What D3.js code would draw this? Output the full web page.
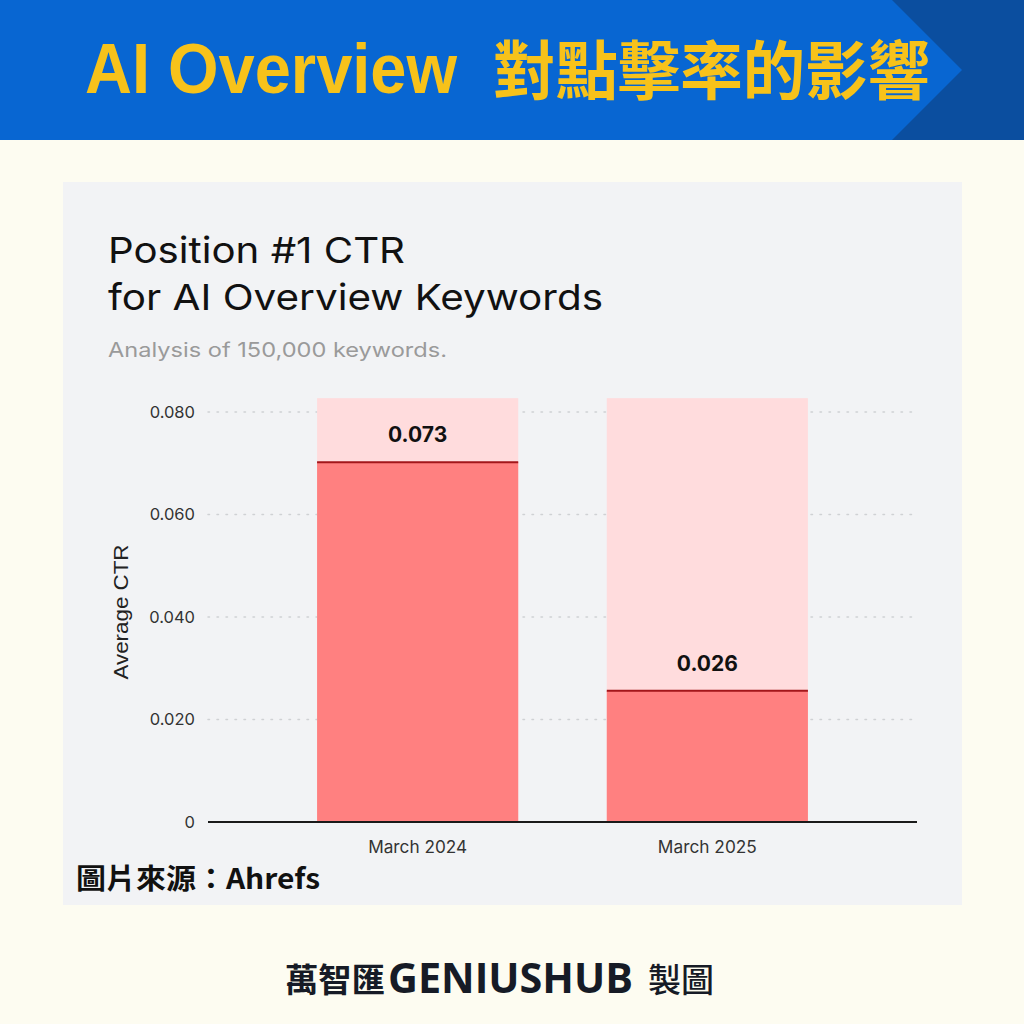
<!DOCTYPE html>
<html>
<head>
<meta charset="utf-8">
<script src="https://cdn.jsdelivr.net/npm/d3@7"></script>
<style>
  html, body { margin: 0; padding: 0; background: #fdfcf1; }
  svg { display: block; }
</style>
</head>
<body>
<svg id="chart" width="1024" height="1024"></svg>
<script>
// ---- data ----
const categories = ["March 2024", "March 2025"];
const ctrValues = [0.0702, 0.0256];        // bar heights as drawn
const ctrLabels = ["0.073", "0.026"];      // value labels shown
const trackMax = 0.0827;                   // light background column height
const yTicks = [0, 0.02, 0.04, 0.06, 0.08];

const headerTitleEn = "AI Overview";
const headerTitleZh = "對點擊率的影響";
const chartTitle1 = "Position #1 CTR";
const chartTitle2 = "for AI Overview Keywords";
const chartSubtitle = "Analysis of 150,000 keywords.";
const yAxisTitle = "Average CTR";
const sourceText = "圖片來源：Ahrefs";

const svg = d3.select("#chart");

// page background
svg.append("rect").attr("width", 1024).attr("height", 1024).attr("fill", "#fdfcf1");

// header band
svg.append("rect").attr("x", 0).attr("y", 0).attr("width", 1024).attr("height", 140).attr("fill", "#0b4e9f");
svg.append("path")
  .attr("d", "M0,0 L892,0 L962,70 L892,140 L0,140 Z")
  .attr("fill", "#0866d2");

svg.append("text")
  .attr("x", 85).attr("y", 93)
  .attr("font-family", "'Liberation Sans', Arial, sans-serif")
  .attr("font-weight", 700)
  .attr("font-size", 70)
  .attr("textLength", 372).attr("lengthAdjust", "spacingAndGlyphs")
  .attr("fill", "#f7c21a")
  .text(headerTitleEn);
svg.append("text")
  .attr("x", 493).attr("y", 94)
  .attr("font-family", "'Noto Sans CJK TC', sans-serif")
  .attr("font-weight", 700)
  .attr("font-size", 64)
  .attr("textLength", 437).attr("lengthAdjust", "spacingAndGlyphs")
  .attr("fill", "#f7c21a")
  .text(headerTitleZh);

// chart panel
svg.append("rect").attr("x", 63).attr("y", 182).attr("width", 899).attr("height", 723).attr("fill", "#f2f3f5");

const titleFont = "Inter, 'Noto Sans', sans-serif";
svg.append("text").attr("x", 108).attr("y", 263)
  .attr("font-family", titleFont).attr("font-size", 36).attr("fill", "#111")
  .attr("textLength", 297).attr("lengthAdjust", "spacingAndGlyphs")
  .text(chartTitle1);
svg.append("text").attr("x", 108).attr("y", 310)
  .attr("font-family", titleFont).attr("font-size", 36).attr("fill", "#111")
  .attr("textLength", 495).attr("lengthAdjust", "spacingAndGlyphs")
  .text(chartTitle2);
svg.append("text").attr("x", 108).attr("y", 357)
  .attr("font-family", titleFont).attr("font-size", 20).attr("fill", "#9a9a9a")
  .attr("textLength", 339).attr("lengthAdjust", "spacingAndGlyphs")
  .text(chartSubtitle);

// scales
const plotLeft = 208, plotRight = 917;
const y = d3.scaleLinear().domain([0, 0.08]).range([822, 412]);
const x = d3.scaleBand().domain(categories).range([plotLeft, plotRight])
  .paddingInner(0.3057).paddingOuter(0.3765);

// gridlines
svg.append("g").selectAll("line").data(yTicks.filter(d => d > 0)).join("line")
  .attr("x1", plotLeft).attr("x2", plotRight)
  .attr("y1", d => y(d)).attr("y2", d => y(d))
  .attr("stroke", "#cfd1d4").attr("stroke-width", 1.5)
  .attr("stroke-dasharray", "1.5,7.5").attr("stroke-linecap", "round");

// y axis tick labels
const yAxis = d3.axisLeft(y).tickValues(yTicks)
  .tickFormat(d => d === 0 ? "0" : d3.format(".3f")(d))
  .tickSize(0).tickPadding(0);
const yg = svg.append("g").attr("transform", "translate(195,0)").call(yAxis);
yg.select(".domain").remove();
yg.selectAll("text")
  .attr("font-family", titleFont).attr("font-size", 16.5).attr("fill", "#333")
  .attr("dy", "0.32em");

// y axis title
svg.append("text")
  .attr("transform", "translate(128,612) rotate(-90)")
  .attr("text-anchor", "middle")
  .attr("font-family", "'Liberation Sans', Arial, sans-serif")
  .attr("font-size", 21).attr("fill", "#222")
  .attr("textLength", 135).attr("lengthAdjust", "spacingAndGlyphs")
  .text(yAxisTitle);

// background tracks
svg.append("g").selectAll("rect").data(categories).join("rect")
  .attr("x", d => x(d)).attr("width", x.bandwidth())
  .attr("y", y(trackMax)).attr("height", y(0) - y(trackMax))
  .attr("fill", "#ffdcdd");

// bars
const barData = categories.map((c, i) => ({ c, v: ctrValues[i], label: ctrLabels[i] }));
svg.append("g").selectAll("rect").data(barData).join("rect")
  .attr("x", d => x(d.c)).attr("width", x.bandwidth())
  .attr("y", d => y(d.v)).attr("height", d => y(0) - y(d.v))
  .attr("fill", "#ff8080");
svg.append("g").selectAll("line").data(barData).join("line")
  .attr("x1", d => x(d.c)).attr("x2", d => x(d.c) + x.bandwidth())
  .attr("y1", d => y(d.v)).attr("y2", d => y(d.v))
  .attr("stroke", "#a3161a").attr("stroke-width", 2);

// value labels
svg.append("g").selectAll("text").data(barData).join("text")
  .attr("x", d => x(d.c) + x.bandwidth() / 2)
  .attr("y", d => y(d.v) - 20)
  .attr("text-anchor", "middle")
  .attr("font-family", titleFont).attr("font-weight", 700).attr("font-size", 21)
  .attr("fill", "#111")
  .text(d => d.label);

// baseline
svg.append("line").attr("x1", plotLeft).attr("x2", plotRight)
  .attr("y1", y(0)).attr("y2", y(0))
  .attr("stroke", "#1a1a1a").attr("stroke-width", 2);

// x axis labels
const xAxis = d3.axisBottom(x).tickSize(0).tickPadding(0);
const xg = svg.append("g").attr("transform", `translate(0,${y(0)})`).call(xAxis);
xg.select(".domain").remove();
xg.selectAll("text")
  .attr("font-family", titleFont).attr("font-size", 17).attr("fill", "#333")
  .attr("textLength", 99).attr("lengthAdjust", "spacingAndGlyphs")
  .attr("dy", null).attr("y", 31);

// source
svg.append("text").attr("x", 76).attr("y", 889)
  .attr("font-family", "'Noto Sans CJK TC', sans-serif").attr("font-weight", 700)
  .attr("font-size", 28).attr("fill", "#111")
  .attr("textLength", 244).attr("lengthAdjust", "spacingAndGlyphs")
  .text(sourceText);

// footer
svg.append("text").attr("x", 285).attr("y", 992)
  .attr("font-family", "'Noto Sans CJK TC', sans-serif").attr("font-weight", 700)
  .attr("font-size", 33).attr("fill", "#161b26")
  .attr("textLength", 100).attr("lengthAdjust", "spacingAndGlyphs")
  .text("萬智匯");
svg.append("text").attr("x", 388).attr("y", 993)
  .attr("font-family", "'Open Sans', 'Noto Sans', sans-serif").attr("font-weight", 700)
  .attr("font-size", 42).attr("fill", "#161b26")
  .attr("textLength", 245).attr("lengthAdjust", "spacingAndGlyphs")
  .text("GENIUSHUB");
svg.append("text").attr("x", 648).attr("y", 992)
  .attr("font-family", "'Noto Sans CJK TC', sans-serif").attr("font-weight", 500)
  .attr("font-size", 33).attr("fill", "#161b26")
  .attr("textLength", 66).attr("lengthAdjust", "spacingAndGlyphs")
  .text("製圖");
</script>
</body>
</html>
